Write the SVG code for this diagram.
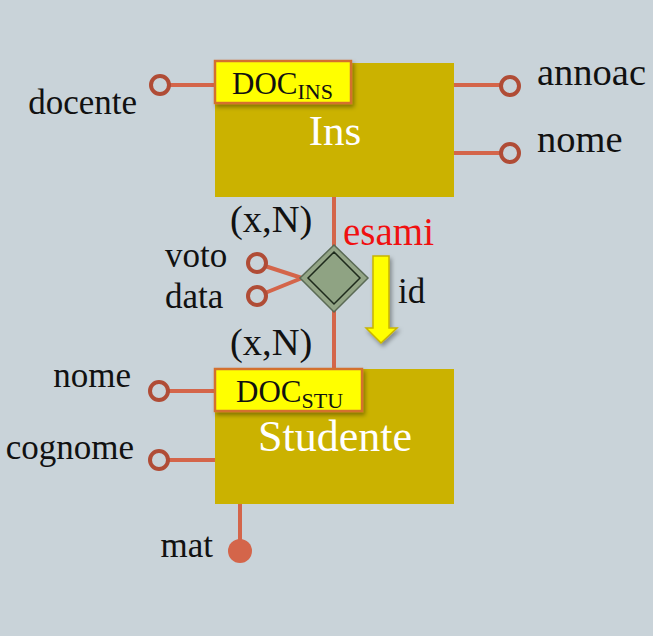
<svg xmlns="http://www.w3.org/2000/svg" width="653" height="636" viewBox="0 0 653 636">
<defs>
<filter id="sh" x="-20%" y="-20%" width="150%" height="160%">
<feDropShadow dx="2" dy="3" stdDeviation="2" flood-color="#000" flood-opacity="0.35"/>
</filter>
<style>
.ent{fill:#cbb200;}
.lbl{fill:#ffff00;stroke:#d4702e;stroke-width:2.5;}
.ln{stroke:#d4654a;stroke-width:4;fill:none;}
.att{fill:none;stroke:#b04c36;stroke-width:4;}
.t{font-family:"Liberation Serif","Times New Roman",serif;fill:#111;}
.w{font-family:"Liberation Serif","Times New Roman",serif;fill:#fff;}
</style>
</defs>
<rect width="653" height="636" fill="#c9d3d9"/>
<g id="connectors">
<line class="ln" x1="169" y1="85" x2="216" y2="85"/>
<line class="ln" x1="453" y1="85" x2="501" y2="85"/>
<line class="ln" x1="453" y1="153" x2="501" y2="153"/>
<line class="ln" x1="334" y1="197" x2="334" y2="246"/>
<line class="ln" x1="334" y1="311" x2="334" y2="370"/>
<polyline class="ln" points="265,266 302,278 265,293"/>
<line class="ln" x1="168" y1="391" x2="216" y2="391"/>
<line class="ln" x1="168" y1="460" x2="216" y2="460"/>
<line class="ln" x1="240" y1="503" x2="240" y2="545"/>
</g>
<g id="ins">
<rect class="ent" x="215" y="63" width="239" height="134"/>
<rect class="lbl" x="215" y="61" width="136" height="42" filter="url(#sh)"/>
<text class="t" x="232" y="94" font-size="31">DOC<tspan font-size="22" dy="5">INS</tspan></text>
<text class="w" x="335" y="145" font-size="43" text-anchor="middle">Ins</text>
</g>
<g id="studente">
<rect class="ent" x="215" y="369" width="239" height="135"/>
<rect class="lbl" x="215" y="369" width="147" height="42" filter="url(#sh)"/>
<text class="t" x="236" y="402" font-size="31">DOC<tspan font-size="22" dy="6">STU</tspan></text>
<text class="w" x="335" y="451" font-size="44" text-anchor="middle">Studente</text>
</g>
<g id="esami">
<polygon points="334,245 368,278 334,312 300,278" fill="#93a586" stroke="#5a6a55" stroke-width="1.5"/>
<polygon points="334,252 360,278 334,304 308,278" fill="#8fa383" stroke="#1e2a1c" stroke-width="1.5"/>
<text x="343" y="245" font-size="39" fill="#f01010" font-family="Liberation Serif, serif">esami</text>
<text class="t" x="230" y="232" font-size="38.5">(x,N)</text>
<text class="t" x="230" y="355" font-size="38.5">(x,N)</text>
</g>
<g id="arrow-id">
<polygon points="373,256 389,256 389,328 397,328 381,343 366,328 373,328" fill="#ffff00" stroke="#c8b400" stroke-width="1.5" filter="url(#sh)"/>
<text class="t" x="398" y="303" font-size="35">id</text>
</g>
<g id="attr-docente">
<circle class="att" cx="160" cy="85" r="9"/>
<text class="t" x="137" y="114" font-size="35" text-anchor="end">docente</text>
</g>
<g id="attr-annoac">
<circle class="att" cx="510" cy="86" r="9"/>
<text class="t" x="537" y="85" font-size="38.5">annoac</text>
</g>
<g id="attr-nome-ins">
<circle class="att" cx="510" cy="153" r="9"/>
<text class="t" x="537" y="152" font-size="38.5">nome</text>
</g>
<g id="attr-voto">
<circle class="att" cx="257" cy="263" r="9"/>
<text class="t" x="165" y="267" font-size="35">voto</text>
</g>
<g id="attr-data">
<circle class="att" cx="257" cy="296" r="9"/>
<text class="t" x="165" y="308" font-size="35">data</text>
</g>
<g id="attr-nome-stu">
<circle class="att" cx="159" cy="391" r="9"/>
<text class="t" x="131" y="387" font-size="35" text-anchor="end">nome</text>
</g>
<g id="attr-cognome">
<circle class="att" cx="159" cy="460" r="9"/>
<text class="t" x="134" y="459" font-size="35" text-anchor="end">cognome</text>
</g>
<g id="attr-mat">
<circle cx="240" cy="551" r="12" fill="#d4654a"/>
<text class="t" x="213" y="557" font-size="35" text-anchor="end">mat</text>
</g>
</svg>
